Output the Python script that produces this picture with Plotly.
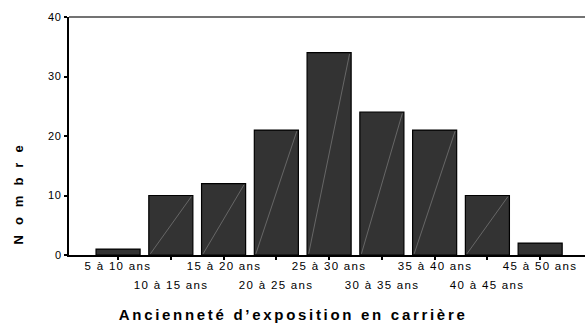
import plotly.graph_objects as go

categories = ["5 à 10 ans", "10 à 15 ans", "15 à 20 ans", "20 à 25 ans", "25 à 30 ans",
              "30 à 35 ans", "35 à 40 ans", "40 à 45 ans", "45 à 50 ans"]
counts = [1, 10, 12, 21, 34, 24, 21, 10, 2]
y_ticks = [0, 10, 20, 30, 40]
x_title = "Ancienneté d’exposition en carrière"
y_title = "Nombre"

xs = list(range(len(categories)))
bar_w = 0.835

fig = go.Figure()
fig.add_trace(go.Bar(x=xs, y=counts, width=bar_w,
                     marker=dict(color="#333333", line=dict(color="#000000", width=1.2)),
                     hoverinfo="skip"))

# faint diagonal artefacts across the bars
dx, dy = [], []
for x, v in zip(xs, counts):
    if v >= 5:
        dx += [x - bar_w / 2 + 0.03, x + bar_w / 2 - 0.03, None]
        dy += [0.2, v - 0.2, None]
fig.add_trace(go.Scatter(x=dx, y=dy, mode="lines", line=dict(color="#8a8a8a", width=0.6),
                         hoverinfo="skip"))

font = "Liberation Sans, Arial, sans-serif"
for i, (x, lab) in enumerate(zip(xs, categories)):
    fig.add_annotation(x=x, y=0, xref="x", yref="y", text=lab, showarrow=False,
                       yanchor="middle", yshift=-11 if i % 2 == 0 else -30,
                       font=dict(family=font, size=11.5, color="#000"))

fig.add_annotation(x=0.5, y=-0.25, xref="paper", yref="paper", xanchor="center",
                   text="<b>" + x_title + "</b>", showarrow=False, yanchor="middle",
                   xshift=-34,
                   font=dict(family=font, size=15, color="#000"))
fig.add_annotation(x=-0.097, y=0.275, xref="paper", yref="paper", text="<b>" + y_title + "</b>",
                   textangle=-90, showarrow=False, xanchor="center", yanchor="middle",
                   font=dict(family=font, size=13, color="#000"))

fig.update_layout(
    width=585, height=328,
    margin=dict(l=69, r=0, t=17, b=73),
    paper_bgcolor="white", plot_bgcolor="white",
    showlegend=False,
    bargap=0.16,
    xaxis=dict(range=[-0.93, 8.85], tickvals=xs, showticklabels=False,
               ticks="outside", ticklen=3, tickwidth=2, tickcolor="#000",
               showgrid=False, zeroline=False, showline=True, linecolor="#000", linewidth=1.5,
               fixedrange=True),
    yaxis=dict(range=[0, 40], tickvals=y_ticks, ticks="outside", ticklen=3, tickwidth=2,
               tickcolor="#000", showgrid=False, zeroline=False, showline=True,
               linecolor="#000", linewidth=2,
               tickfont=dict(family=font, size=11, color="#000"), fixedrange=True),
)
# top frame line
fig.add_shape(type="line", xref="paper", yref="paper", x0=0, x1=1, y0=1, y1=1,
              line=dict(color="#444", width=1.5))

post = """
document.body.style.margin='0';
document.body.style.overflow='hidden';
var gd = document.getElementsByClassName('plotly-graph-div')[0];
function sp(){
  var a = gd.querySelectorAll('g.annotation text');
  a.forEach(function(t){
    var s = t.textContent;
    if (s.indexOf('Nombre')>=0) { t.style.letterSpacing='10px'; }
    else if (s.indexOf('Ancien')>=0) { t.style.letterSpacing='2.7px'; }
    else { t.style.letterSpacing='1.3px'; }
  });
  gd.querySelectorAll('g.ytick text').forEach(function(t){ t.style.letterSpacing='0.8px'; });
}
sp();
"""
fig.write_html("out.html", post_script=post, config={"displayModeBar": False})
